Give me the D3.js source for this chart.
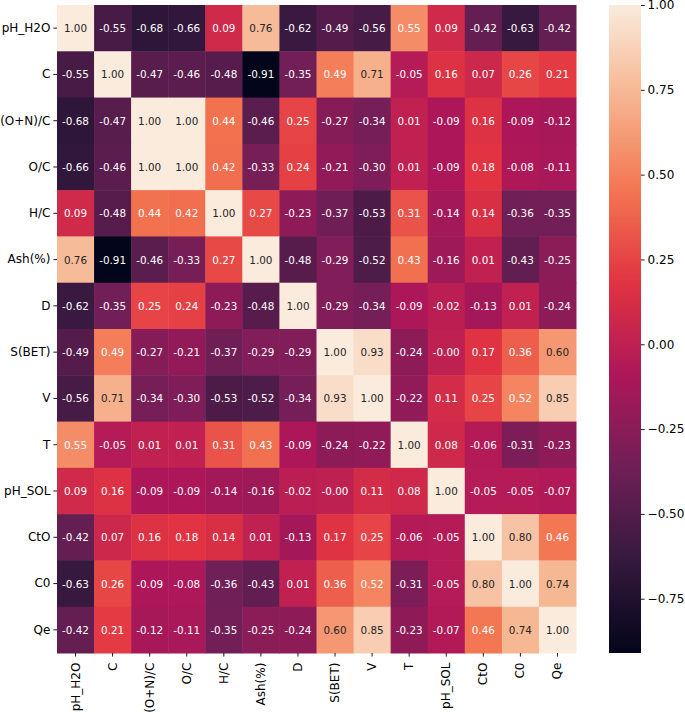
<!DOCTYPE html>
<html>
<head>
<meta charset="utf-8">
<script src="https://cdn.jsdelivr.net/npm/d3@7"></script>
<style>
  body { margin: 0; background: #fff; }
  svg { display: block; font-family: "DejaVu Sans", sans-serif; }
</style>
</head>
<body>
<svg id="chart" width="685" height="712"></svg>
<script>
// variables, same order on both axes
const labels = ['pH_H2O', 'C', '(O+N)/C', 'O/C', 'H/C', 'Ash(%)', 'D',
  'S(BET)', 'V', 'T', 'pH_SOL', 'CtO', 'C0', 'Qe'];

// correlation matrix, one row per variable
const corr = [
  [1.00, -0.55, -0.68, -0.66, 0.09, 0.76, -0.62, -0.49, -0.56, 0.55, 0.09, -0.42, -0.63, -0.42],
  [-0.55, 1.00, -0.47, -0.46, -0.48, -0.91, -0.35, 0.49, 0.71, -0.05, 0.16, 0.07, 0.26, 0.21],
  [-0.68, -0.47, 1.00, 1.00, 0.44, -0.46, 0.25, -0.27, -0.34, 0.01, -0.09, 0.16, -0.09, -0.12],
  [-0.66, -0.46, 1.00, 1.00, 0.42, -0.33, 0.24, -0.21, -0.30, 0.01, -0.09, 0.18, -0.08, -0.11],
  [0.09, -0.48, 0.44, 0.42, 1.00, 0.27, -0.23, -0.37, -0.53, 0.31, -0.14, 0.14, -0.36, -0.35],
  [0.76, -0.91, -0.46, -0.33, 0.27, 1.00, -0.48, -0.29, -0.52, 0.43, -0.16, 0.01, -0.43, -0.25],
  [-0.62, -0.35, 0.25, 0.24, -0.23, -0.48, 1.00, -0.29, -0.34, -0.09, -0.02, -0.13, 0.01, -0.24],
  [-0.49, 0.49, -0.27, -0.21, -0.37, -0.29, -0.29, 1.00, 0.93, -0.24, -0.004, 0.17, 0.36, 0.60],
  [-0.56, 0.71, -0.34, -0.30, -0.53, -0.52, -0.34, 0.93, 1.00, -0.22, 0.11, 0.25, 0.52, 0.85],
  [0.55, -0.05, 0.01, 0.01, 0.31, 0.43, -0.09, -0.24, -0.22, 1.00, 0.08, -0.06, -0.31, -0.23],
  [0.09, 0.16, -0.09, -0.09, -0.14, -0.16, -0.02, -0.004, 0.11, 0.08, 1.00, -0.05, -0.05, -0.07],
  [-0.42, 0.07, 0.16, 0.18, 0.14, 0.01, -0.13, 0.17, 0.25, -0.06, -0.05, 1.00, 0.80, 0.46],
  [-0.63, 0.26, -0.09, -0.08, -0.36, -0.43, 0.01, 0.36, 0.52, -0.31, -0.05, 0.80, 1.00, 0.74],
  [-0.42, 0.21, -0.12, -0.11, -0.35, -0.25, -0.24, 0.60, 0.85, -0.23, -0.07, 0.46, 0.74, 1.00],
];

const vmin = -0.91, vmax = 1.00;
const cbarTicks = [-0.75, -0.5, -0.25, 0, 0.25, 0.5, 0.75, 1.0];

// seaborn "rocket" approximated by samples along the map
const rocket = ['#03051a', '#35193e', '#701f57', '#ad1759', '#e13342', '#f37651', '#f6b48f', '#faebdd'];

const W = 685, H = 712;
const M = { left: 57, top: 5, right: 576, bottom: 653 };
const CB = { x0: 609, x1: 641 };
const TICK = 3.6, PAD = 3;
const FS_TICK = 12, FS_ANNOT = 10.4;

const svg = d3.select('#chart');
svg.append('rect').attr('width', W).attr('height', H).attr('fill', '#fff');

const x = d3.scaleBand().domain(labels).range([M.left, M.right]);
const y = d3.scaleBand().domain(labels).range([M.top, M.bottom]);

const t01 = d3.scaleLinear().domain([vmin, vmax]).range([0, 1]).clamp(true);
const ramp = d3.scaleLinear()
  .domain(rocket.map((_, i) => i / (rocket.length - 1)))
  .range(rocket)
  .interpolate(d3.interpolateRgb);
const color = (v) => ramp(t01(v));

// same rule seaborn uses to pick annotation colour
function luminance(c) {
  const { r, g, b } = d3.rgb(c);
  const lin = (u) => { u /= 255; return u <= 0.03928 ? u / 12.92 : Math.pow((u + 0.055) / 1.055, 2.4); };
  return 0.2126 * lin(r) + 0.7152 * lin(g) + 0.0722 * lin(b);
}

const cells = [];
corr.forEach((row, i) => row.forEach((v, j) => cells.push({ r: labels[i], c: labels[j], v })));

const g = svg.append('g');
g.selectAll('rect.cell')
  .data(cells)
  .join('rect')
  .attr('class', 'cell')
  .attr('x', (d) => x(d.c))
  .attr('y', (d) => y(d.r))
  .attr('width', x.bandwidth() + 0.5)
  .attr('height', y.bandwidth() + 0.5)
  .attr('fill', (d) => color(d.v));

g.selectAll('text.annot')
  .data(cells)
  .join('text')
  .attr('class', 'annot')
  .attr('x', (d) => x(d.c) + x.bandwidth() / 2)
  .attr('y', (d) => y(d.r) + y.bandwidth() / 2)
  .attr('text-anchor', 'middle')
  .attr('dominant-baseline', 'central')
  .attr('font-size', FS_ANNOT)
  .attr('fill', (d) => (luminance(color(d.v)) > 0.408 ? '#262626' : '#ffffff'))
  .text((d) => d.v.toFixed(2));

// axes — seaborn draws them without spines
const xAxis = svg.append('g')
  .attr('transform', `translate(0,${M.bottom})`)
  .call(d3.axisBottom(x).tickSize(TICK).tickPadding(PAD));
xAxis.selectAll('text')
  .attr('font-size', FS_TICK)
  .attr('fill', '#000')
  .attr('text-anchor', 'end')
  .attr('dy', null)
  .attr('dominant-baseline', 'central')
  .attr('transform', `translate(0,${TICK + 6}) rotate(-90)`)
  .attr('y', 0)
  .attr('x', 0);

const yAxis = svg.append('g')
  .attr('transform', `translate(${M.left},0)`)
  .call(d3.axisLeft(y).tickSize(TICK).tickPadding(PAD));
yAxis.selectAll('text').attr('font-size', FS_TICK).attr('fill', '#000');

[xAxis, yAxis].forEach((a) => {
  a.select('.domain').remove();
  a.attr('font-family', null);
  a.selectAll('line').attr('stroke', '#000').attr('stroke-width', 0.9);
});

// colorbar
const cy = d3.scaleLinear().domain([vmin, vmax]).range([M.bottom, M.top]);
const grad = svg.append('defs').append('linearGradient')
  .attr('id', 'cbar').attr('x1', 0).attr('y1', 1).attr('x2', 0).attr('y2', 0);
d3.range(0, 1.0001, 0.02).forEach((t) => {
  grad.append('stop').attr('offset', t).attr('stop-color', ramp(t));
});
svg.append('rect')
  .attr('x', CB.x0).attr('y', M.top)
  .attr('width', CB.x1 - CB.x0).attr('height', M.bottom - M.top)
  .attr('fill', 'url(#cbar)');

const cAxis = svg.append('g')
  .attr('transform', `translate(${CB.x1},0)`)
  .call(d3.axisRight(cy).tickValues(cbarTicks).tickFormat(d3.format('.2f')).tickSize(TICK).tickPadding(PAD));
cAxis.select('.domain').remove();
cAxis.attr('font-family', null);
cAxis.selectAll('text').attr('font-size', FS_TICK).attr('fill', '#000');
cAxis.selectAll('line').attr('stroke', '#000').attr('stroke-width', 0.9);
</script>
</body>
</html>
